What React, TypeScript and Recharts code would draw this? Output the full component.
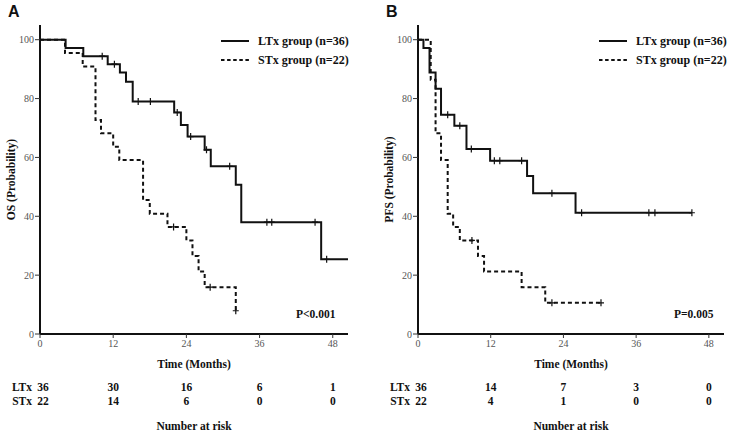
import { ComposedChart, Line, XAxis, YAxis, Label } from 'recharts'

const SERIF = '"Liberation Serif", "Times New Roman", serif'
const SANS = '"Liberation Sans", Arial, sans-serif'

const T_MAX = 50.5
const timeTicks = [0, 12, 24, 36, 48]
const probTicks = [0, 20, 40, 60, 80, 100]

// [months, survival %] at each drop; the last pair closes the curve
const osLtxSteps: [number, number][] = [
  [0, 100], [4.2, 97.2], [7.1, 94.4], [11.1, 91.7], [13.1, 88.9], [14.1, 85.7],
  [15.2, 79.0], [22.0, 75.3], [23.1, 71.0], [24.2, 67.1], [27.0, 62.6], [28.0, 57.0],
  [32.1, 50.7], [33.0, 38.0], [46.1, 25.4], [50.5, 25.4],
]
const osLtxCensored: [number, number][] = [
  [10.2, 94.4], [12.2, 91.7], [16.1, 79.0], [18.1, 79.0], [22.5, 75.3], [24.7, 67.1],
  [27.3, 62.6], [31.1, 57.0], [37.2, 38.0], [38.0, 38.0], [45.1, 38.0], [47.0, 25.4],
]
const osStxSteps: [number, number][] = [
  [0, 100], [4.1, 95.5], [7.0, 90.9], [9.1, 72.7], [10.0, 68.2], [12.0, 63.6],
  [13.0, 59.1], [16.9, 45.5], [18.0, 40.9], [20.9, 36.4], [24.0, 31.8], [25.0, 26.5],
  [26.0, 21.2], [27.0, 15.9], [32.1, 7.9],
]
const osStxCensored: [number, number][] = [[21.9, 36.4], [27.9, 15.9], [32.1, 7.9]]

const pfsLtxSteps: [number, number][] = [
  [0, 100], [0.9, 97.2], [1.9, 88.9], [2.9, 83.3], [3.8, 74.5], [6.0, 70.8],
  [8.0, 62.9], [11.9, 58.9], [18.0, 53.7], [19.0, 47.8], [26.0, 41.2], [45.2, 41.2],
]
const pfsLtxCensored: [number, number][] = [
  [4.9, 74.5], [6.9, 70.8], [8.8, 62.9], [12.6, 58.9], [13.5, 58.9], [17.1, 58.9],
  [22.1, 47.8], [27.0, 41.2], [38.1, 41.2], [39.1, 41.2], [45.2, 41.2],
]
const pfsStxSteps: [number, number][] = [
  [0, 100], [2.1, 86.4], [2.9, 68.2], [3.8, 59.1], [4.9, 40.9], [5.8, 36.4],
  [6.9, 31.8], [9.9, 26.5], [10.9, 21.2], [17.1, 15.9], [21.0, 10.6], [30.2, 10.6],
]
const pfsStxCensored: [number, number][] = [[8.9, 31.8], [22.1, 10.6], [30.2, 10.6]]

// number at risk at each time tick
const osRiskLtx = [36, 30, 16, 6, 1]
const osRiskStx = [22, 14, 6, 0, 0]
const pfsRiskLtx = [36, 14, 7, 3, 0]
const pfsRiskStx = [22, 4, 1, 0, 0]

const toRows = (pairs: [number, number][]) => pairs.map(([t, s]) => ({ t, s }))

const PlusMark = (props: any) => {
  const { cx, cy, index } = props
  if (typeof cx !== 'number' || typeof cy !== 'number') return <g key={index} />
  return (
    <path
      key={index}
      d={`M${cx - 3},${cy}h6M${cx},${cy - 3.5}v7`}
      stroke="#111"
      strokeWidth={1.2}
      fill="none"
    />
  )
}

const riskTick = (values: number[], group: string) => (props: any) => {
  const { x, y, payload } = props
  const i = timeTicks.indexOf(payload.value)
  return (
    <g>
      {i === 0 && (
        <text x={x - 8} y={y + 12} textAnchor="end" fontFamily={SERIF} fontSize={11.5} fontWeight="bold" fill="#111">
          {group}
        </text>
      )}
      <text x={i === 0 ? x + 3 : x} y={y + 12} textAnchor="middle" fontFamily={SERIF} fontSize={11.5} fontWeight="bold" fill="#111">
        {values[i]}
      </text>
    </g>
  )
}

type PanelProps = {
  letter: string
  left: number
  width: number
  marginRight: number
  yLabel: string
  pText: string
  ltxSteps: [number, number][]
  ltxCensored: [number, number][]
  stxSteps: [number, number][]
  stxCensored: [number, number][]
  riskLtx: number[]
  riskStx: number[]
}

function SurvivalPanel(p: PanelProps) {
  const tickStyle = { fill: '#555', fontSize: 10, fontFamily: SERIF }
  const labelStyle = { fill: '#111', fontSize: 11.5, fontFamily: SERIF, fontWeight: 'bold' as const }
  return (
    <div style={{ position: 'absolute', left: p.left, top: 0, width: p.width, height: 434 }}>
      <ComposedChart width={p.width} height={434} margin={{ top: 25, right: p.marginRight, bottom: 0, left: 0 }}>
        <XAxis
          type="number"
          dataKey="t"
          domain={[0, T_MAX]}
          ticks={timeTicks}
          interval={0}
          allowDataOverflow
          height={45}
          tick={tickStyle}
          tickSize={4}
          tickMargin={2}
          axisLine={{ stroke: '#111', strokeWidth: 2 }}
          tickLine={{ stroke: '#333' }}
        >
          <Label value="Time (Months)" position="insideBottom" offset={11} style={labelStyle} />
        </XAxis>
        <XAxis
          xAxisId="riskLtx"
          type="number"
          dataKey="t"
          domain={[0, T_MAX]}
          ticks={timeTicks}
          interval={0}
          allowDataOverflow
          height={14}
          axisLine={false}
          tickLine={false}
          tickSize={0}
          tickMargin={0}
          tick={riskTick(p.riskLtx, 'LTx')}
        />
        <XAxis
          xAxisId="riskStx"
          type="number"
          dataKey="t"
          domain={[0, T_MAX]}
          ticks={timeTicks}
          interval={0}
          allowDataOverflow
          height={41}
          axisLine={false}
          tickLine={false}
          tickSize={0}
          tickMargin={0}
          tick={riskTick(p.riskStx, 'STx')}
        >
          <Label value="Number at risk" position="insideBottom" offset={4} style={labelStyle} />
        </XAxis>
        <YAxis
          type="number"
          domain={[0, 105]}
          ticks={probTicks}
          interval={0}
          allowDataOverflow
          width={40}
          tick={tickStyle}
          tickSize={5}
          tickMargin={1}
          axisLine={{ stroke: '#111', strokeWidth: 2 }}
          tickLine={{ stroke: '#333' }}
        >
          <Label value={p.yLabel} angle={-90} position="insideLeft" offset={11} style={{ ...labelStyle, textAnchor: 'middle' }} />
        </YAxis>
        <Line
          data={toRows(p.ltxSteps)}
          dataKey="s"
          type="stepAfter"
          stroke="#111"
          strokeWidth={2}
          dot={false}
          activeDot={false}
          isAnimationActive={false}
        />
        <Line
          data={toRows(p.stxSteps)}
          dataKey="s"
          type="stepAfter"
          stroke="#111"
          strokeWidth={2}
          strokeDasharray="4 3"
          dot={false}
          activeDot={false}
          isAnimationActive={false}
        />
        <Line
          data={toRows(p.ltxCensored)}
          dataKey="s"
          stroke="none"
          dot={PlusMark}
          activeDot={false}
          isAnimationActive={false}
        />
        <Line
          data={toRows(p.stxCensored)}
          dataKey="s"
          stroke="none"
          dot={PlusMark}
          activeDot={false}
          isAnimationActive={false}
        />
      </ComposedChart>

      <div style={{ position: 'absolute', left: 8, top: 3, fontFamily: SANS, fontWeight: 'bold', fontSize: 16, color: '#111' }}>
        {p.letter}
      </div>

      <svg style={{ position: 'absolute', left: 215, top: 28 }} width={150} height={42}>
        <line x1={6} x2={34} y1={13} y2={13} stroke="#111" strokeWidth={2} />
        <line x1={6} x2={34} y1={32} y2={32} stroke="#111" strokeWidth={2} strokeDasharray="3.5 2.6" />
        <text x={43} y={17} fontFamily={SERIF} fontSize={12} fontWeight="bold" fill="#111">LTx group (n=36)</text>
        <text x={43} y={36} fontFamily={SERIF} fontSize={12} fontWeight="bold" fill="#111">STx group (n=22)</text>
      </svg>

      <svg style={{ position: 'absolute', left: 290, top: 304 }} width={60} height={20}>
        <text x={6} y={14} fontFamily={SERIF} fontSize={11.5} fontWeight="bold" fill="#111">{p.pText}</text>
      </svg>
    </div>
  )
}

export default function App() {
  return (
    <div style={{ position: 'absolute', left: 0, top: 0, width: 732, height: 434, background: '#fff', overflow: 'hidden' }}>
      <SurvivalPanel
        letter="A"
        left={0}
        width={366}
        marginRight={18}
        yLabel="OS (Probability)"
        pText="P<0.001"
        ltxSteps={osLtxSteps}
        ltxCensored={osLtxCensored}
        stxSteps={osStxSteps}
        stxCensored={osStxCensored}
        riskLtx={osRiskLtx}
        riskStx={osRiskStx}
      />
      <SurvivalPanel
        letter="B"
        left={378}
        width={354}
        marginRight={8}
        yLabel="PFS (Probability)"
        pText="P=0.005"
        ltxSteps={pfsLtxSteps}
        ltxCensored={pfsLtxCensored}
        stxSteps={pfsStxSteps}
        stxCensored={pfsStxCensored}
        riskLtx={pfsRiskLtx}
        riskStx={pfsRiskStx}
      />
    </div>
  )
}
